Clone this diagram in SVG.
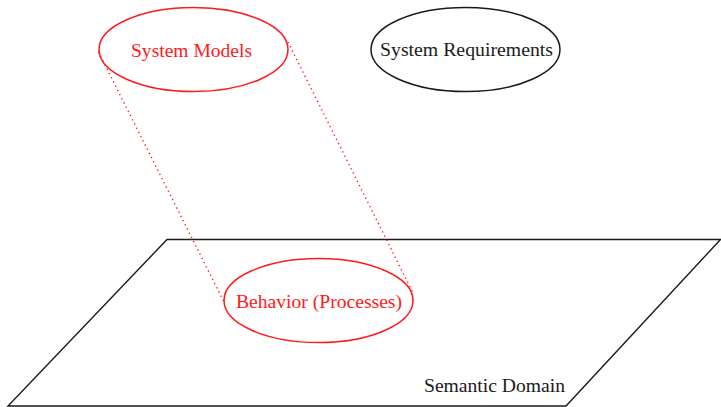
<svg xmlns="http://www.w3.org/2000/svg" width="721" height="407" viewBox="0 0 721 407">
  <style>
    .bg { fill: #ffffff; }
    .node { fill: none; stroke-width: 1.5; }
    .red { stroke: #ff1a1a; }
    .black { stroke: #1a1a1a; }
    .label { font-family: "Liberation Serif", "DejaVu Serif", serif; font-size: 18.5px; text-anchor: middle; }
    .lred { fill: #ff1a1a; }
    .lblack { fill: #1a1a1a; }
    .plane { fill: none; stroke: #1a1a1a; stroke-width: 1.4; stroke-linejoin: miter; }
    .proj { fill: none; stroke: #ff1a1a; stroke-width: 1.4; stroke-dasharray: 1.3 3.4; }
  </style>
  <rect class="bg" x="0" y="0" width="721" height="407"/>

  <!-- semantic domain plane -->
  <g id="semantic-domain">
    <polygon class="plane" points="167,239.5 720.5,239.5 566,406 8,406"/>
    <text class="label lblack" x="494.5" y="392" textLength="141" lengthAdjust="spacingAndGlyphs">Semantic Domain</text>
  </g>

  <!-- projection lines between model and behaviour -->
  <g id="connectors">
    <line class="proj" x1="98.5" y1="52" x2="224" y2="302"/>
    <line class="proj" x1="288" y1="42" x2="413" y2="293"/>
  </g>

  <g id="system-models">
    <ellipse class="node red" cx="193.5" cy="49.5" rx="94.5" ry="42"/>
    <text class="label lred" x="191.5" y="56.5" textLength="121" lengthAdjust="spacingAndGlyphs">System Models</text>
  </g>

  <g id="system-requirements">
    <ellipse class="node black" cx="465.5" cy="49.5" rx="94.5" ry="42"/>
    <text class="label lblack" x="466.5" y="56" textLength="173" lengthAdjust="spacingAndGlyphs">System Requirements</text>
  </g>

  <g id="behavior">
    <ellipse class="node red" cx="318.5" cy="300.5" rx="94.5" ry="42"/>
    <text class="label lred" x="319" y="308" textLength="166" lengthAdjust="spacingAndGlyphs">Behavior (Processes)</text>
  </g>
</svg>
